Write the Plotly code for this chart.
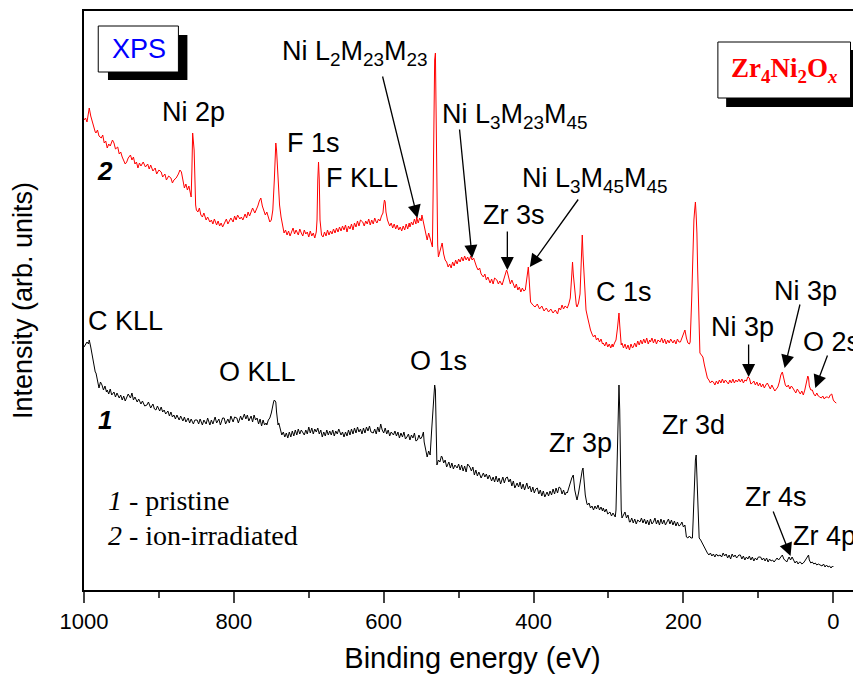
import plotly.graph_objects as go

# ---- data: (binding energy eV, intensity arb. units) ----
irradiated = [
(1000,470),(998,472),(996,468),(994,480),(993,482),(991,474),(989,468),(987,462),(985,458),(984,457),
(982,460),(980,454),(977,452),(975,455),(973,447),(971,449),(969,442),(967,446),(965,444),(962,450),
(960,447),(958,441),(955,443),(953,436),(951,438),(949,433),(947,430),(945,426),(943,428),(941,432),
(938,435),(936,430),(934,433),(932,426),(930,428),(928,422),(926,427),(924,424),(921,428),(918,423),
(915,426),(913,421),(911,425),(908,419),(905,422),(903,416),(900,420),(897,418),(895,413),(892,416),
(890,410),(887,414),(884,412),(882,407),(880,410),(877,412),(874,416),(872,420),(870,418),(868,408),
(866,402),(864,406),(862,400),(860,404),(858,395),(857,393),(856,420),(855,457),(853,440),(852,400),
(851,385),(850,380),(848,378),(846,382),(844,375),(842,373),(840,377),(837,370),(835,373),(832,368),
(830,370),(828,366),(826,371),(823,365),(821,369),(819,364),(817,367),(815,363),(812,368),(810,371),
(808,366),(806,370),(804,372),(801,368),(799,374),(797,370),(795,375),(792,371),(790,373),(788,370),
(785,376),(783,372),(781,378),(779,374),(777,378),(775,382),(772,377),(770,380),(768,384),(766,389),
(764,392),(762,384),(760,380),(758,375),(756,378),(754,372),(752,368),(750,370),(748,380),(746,410),
(745,440),(744,447),(743,440),(741,415),(739,385),(737,373),(735,365),(733,357),(731,360),(729,355),
(727,359),(725,354),(723,358),(721,362),(719,356),(717,360),(714,355),(712,361),(710,357),(708,354),
(706,360),(704,356),(702,358),(700,353),(698,359),(696,354),(694,357),(692,352),(690,358),(689,370),
(688,410),(687,428),(686,410),(685,370),(683,355),(681,353),(679,358),(677,354),(675,360),(673,355),
(671,359),(669,356),(667,361),(665,357),(663,362),(661,358),(659,363),(657,359),(655,364),(653,360),
(651,365),(649,358),(647,364),(645,361),(643,366),(641,360),(639,367),(637,363),(635,369),(633,364),
(631,370),(628,368),(626,364),(624,369),(622,366),(620,371),(618,365),(616,370),(614,366),(612,372),
(610,368),(609,367),(607,371),(605,369),(603,374),(601,377),(600,385),(599,390),(598,388),(597,378),
(595,370),(594,368),(592,364),(590,367),(588,362),(586,366),(584,361),(582,365),(580,360),(578,363),
(576,359),(574,364),(572,360),(570,366),(568,361),(566,367),(565,363),(563,368),(561,365),(559,371),
(557,366),(556,373),(554,367),(552,372),(550,369),(549,375),(547,368),(545,362),(543,355),(542,350),
(540,357),(538,352),(536,345),(535,343),(534,400),(533,480),(532,530),(531,537),(530,480),(529,380),
(528,345),(527,333),(525,340),(523,344),(522,347),(520,336),(518,330),(516,328),(514,323),(512,326),
(510,322),(508,328),(506,324),(504,330),(502,326),(500,331),(498,328),(496,333),(494,329),(492,334),
(490,330),(488,333),(486,329),(484,334),(482,330),(480,332),(478,326),(476,323),(474,320),(472,322),
(470,316),(467,313),(465,316),(463,310),(461,313),(458,307),(456,311),(454,306),(452,312),(449,310),
(447,306),(445,309),(442,305),(440,310),(438,314),(436,320),(435,318),(433,312),(431,306),(429,310),
(427,305),(425,302),(423,306),(421,300),(419,303),(417,298),(415,302),(413,299),(411,300),(409,310),
(408,318),(407,323),(406,312),(405,297),(404,288),(401,285),(398,283),(395,286),(392,281),(389,284),
(386,279),(383,282),(380,278),(377,281),(374,277),(371,280),(368,276),(366,282),(364,280),(362,285),
(360,281),(358,284),(356,283),(355,282),(353,286),(351,292),(349,315),(348,328),(347,316),(345,298),
(343,285),(342,283),(340,287),(338,296),(336,330),(335,355),(334,335),(332,300),(330,280),(328,273),
(326,265),(324,260),(322,256),(320,253),(318,255),(316,250),(314,252),(312,248),(310,251),(308,246),
(307,247),(305,244),(303,248),(301,243),(299,246),(297,242),(295,246),(294,243),(292,247),(290,250),
(288,262),(287,272),(286,277),(285,265),(284,250),(283,245),(282,247),(280,242),(278,246),(276,241),
(274,245),(272,240),(270,246),(268,242),(267,243),(265,247),(263,243),(261,249),(259,245),(257,250),
(255,246),(253,251),(251,247),(249,252),(247,246),(245,250),(244,248),(242,252),(240,247),(238,251),
(236,246),(234,250),(231,248),(229,252),(227,247),(225,251),(223,246),(221,250),(219,247),(217,251),
(214,247),(212,250),(210,246),(208,251),(206,248),(204,248),(202,252),(200,256),(198,260),(196,252),
(194,247),(192,246),(191,248),(189,290),(188,330),(187,350),(186,370),(185,380),(184,388),(183,375),
(182,357),(181,320),(180,280),(179,250),(178,237),(176,235),(174,233),(172,225),(170,218),(168,212),
(166,210),(164,207),(162,209),(160,208),(158,205),(156,209),(154,206),(152,210),(150,207),(148,211),
(146,207),(144,210),(142,208),(140,206),(138,210),(136,207),(134,211),(132,207),(130,210),(128,208),
(126,211),(124,208),(122,211),(120,207),(118,210),(116,209),(114,213),(112,212),(110,206),(108,207),
(106,209),(104,205),(102,208),(100,204),(98,207),(96,203),(94,206),(92,202),(90,205),(88,207),
(86,204),(84,201),(82,205),(80,202),(78,199),(76,201),(74,203),(72,208),(70,215),(68,218),
(66,210),(64,205),(62,203),(60,205),(58,201),(56,204),(54,202),(52,200),(50,197),(48,201),
(46,198),(44,196),(42,199),(40,195),(38,200),(36,206),(34,214),(33,212),(32,204),(30,200),
(28,200),(26,196),(24,194),(22,197),(20,194),(18,193),(16,192),(14,194),(12,191),(10,193),
(8,193),(6,192),(4,195),(2,196),(0,190),(-2,188),(-4,187),
]

pristine = [
(1000,243),(998,245),(996,248),(994,246),(993,250),(991,243),(989,233),(987,225),(985,218),(984,217),
(982,210),(980,202),(978,208),(976,205),(974,200),(972,204),(970,198),(969,200),(967,196),(965,201),
(963,195),(960,198),(958,193),(956,197),(953,192),(951,195),(949,190),(947,194),(945,189),(943,193),
(941,196),(938,192),(936,197),(934,190),(932,193),(929,188),(927,191),(924,186),(922,189),(919,184),
(916,185),(914,188),(911,182),(908,186),(906,181),(904,180),(902,184),(899,179),(897,183),(895,178),
(893,180),(891,176),(888,179),(886,174),(884,178),(882,173),(880,175),(878,171),(876,175),(873,170),
(871,174),(868,169),(866,173),(864,168),(861,172),(859,167),(857,171),(854,166),(852,170),(849,170),
(847,166),(845,171),(842,165),(840,170),(837,166),(835,172),(832,165),(830,170),(828,166),(825,173),
(823,167),(820,171),(818,165),(815,172),(813,172),(811,166),(808,171),(806,167),(804,174),(801,168),
(799,173),(796,172),(794,167),(791,174),(789,170),(786,176),(784,171),(782,175),(780,169),(777,174),
(775,168),(773,175),(771,170),(769,172),(767,166),(765,171),(763,164),(761,170),(759,165),(757,167),
(756,165),(754,170),(752,172),(750,177),(749,182),(747,188),(746,190),(744,188),(743,178),(741,165),
(740,167),(738,160),(736,155),(734,158),(732,153),(730,157),(728,152),(726,158),(724,153),(722,159),
(720,154),(718,160),(716,155),(714,161),(712,156),(710,160),(708,157),(706,155),(704,160),(702,156),
(700,163),(698,157),(696,162),(694,156),(692,161),(690,158),(688,162),(686,156),(684,160),(682,153),
(680,158),(678,154),(676,160),(674,155),(672,159),(670,155),(668,160),(666,154),(664,159),(662,156),
(660,161),(658,155),(657,155),(655,158),(653,153),(651,158),(649,154),(647,160),(645,155),(643,161),
(641,156),(639,162),(637,157),(635,163),(633,158),(631,161),(629,156),(627,162),(625,157),(623,163),
(621,159),(619,164),(617,158),(614,157),(612,161),(610,156),(608,163),(606,158),(604,166),(602,160),
(600,157),(598,162),(596,156),(594,160),(592,154),(590,158),(588,156),(587,155),(585,159),(583,154),
(581,158),(579,152),(577,157),(575,153),(573,158),(571,151),(569,153),(567,156),(565,150),(563,155),
(561,152),(559,157),(557,149),(555,150),(553,155),(551,151),(549,153),(547,158),(546,148),(544,140),
(542,133),(540,139),(538,135),(536,160),(534,190),(533,200),(532,205),(531,200),(530,170),(529,125),
(527,130),(525,128),(523,134),(522,133),(520,127),(518,130),(516,123),(515,125),(513,128),(511,122),
(509,127),(507,121),(505,125),(502,122),(500,126),(498,120),(496,125),(494,119),(492,124),(490,118),
(488,126),(485,123),(483,119),(481,123),(479,115),(477,120),(475,114),(473,118),(470,112),(467,117),
(465,113),(463,116),(461,111),(459,115),(456,109),(454,113),(452,108),(450,114),(448,108),(446,112),
(444,106),(441,113),(439,107),(437,112),(435,113),(433,108),(431,111),(429,104),(427,109),(425,102),
(422,107),(420,103),(418,108),(416,101),(414,106),(412,100),(410,105),(409,107),(407,101),(405,104),
(403,98),(401,103),(399,97),(397,101),(395,102),(393,96),(391,100),(389,94),(387,99),(385,93),
(382,98),(380,94),(378,99),(376,95),(374,101),(372,96),(370,102),(368,97),(366,103),(364,102),
(362,96),(360,100),(358,95),(356,98),(355,97),(353,102),(351,108),(349,112),(347,115),(345,100),
(343,93),(342,90),(340,97),(338,108),(336,115),(335,120),(334,122),(333,110),(331,95),(329,87),
(328,85),(326,87),(324,82),(322,84),(320,80),(318,84),(316,81),(314,85),(312,80),(310,83),
(308,79),(307,82),(305,78),(303,81),(301,76),(298,78),(296,74),(294,77),(292,74),(291,73),
(290,80),(289,110),(288,160),(287,195),(286,205),(285,180),(284,120),(283,80),(282,72),(280,75),
(278,78),(276,72),(274,75),(272,68),(271,68),(269,72),(267,67),(265,71),(263,66),(261,70),
(258,68),(256,72),(254,67),(252,71),(250,66),(248,70),(246,65),(244,71),(242,66),(240,68),
(238,72),(236,66),(234,70),(232,65),(230,71),(228,66),(226,70),(224,65),(222,68),(220,71),
(218,66),(216,70),(214,65),(212,69),(210,64),(208,68),(206,64),(204,65),(202,68),(200,63),
(198,65),(197,58),(196,53),(194,52),(192,54),(190,52),(188,52),(187,70),(186,100),(185,120),
(184,130),(183,135),(182,115),(181,80),(180,57),(179,52),(177,50),(175,47),(173,44),(171,40),
(168,37),(166,35),(164,37),(162,34),(160,36),(158,33),(156,36),(154,34),(151,35),(149,33),
(147,37),(145,34),(143,36),(141,32),(139,35),(137,31),(135,36),(133,33),(131,35),(129,32),
(126,35),(124,35),(122,31),(120,34),(118,30),(116,33),(114,31),(112,34),(110,30),(108,33),
(106,29),(104,32),(102,30),(100,33),(97,33),(95,30),(93,32),(91,29),(89,32),(87,28),
(85,31),(83,29),(81,30),(79,28),(77,30),(75,32),(73,30),(71,32),(69,35),(68,35),
(66,31),(64,29),(62,28),(61,30),(59,33),(57,30),(55,33),(53,30),(51,27),(49,29),
(47,26),(45,28),(44,28),(42,26),(40,27),(38,29),(36,32),(34,35),(33,35),(32,30),
(30,27),(28,28),(26,26),(24,27),(22,25),(20,26),(17,25),(15,24),(13,26),(11,23),
(9,25),(7,23),(5,24),(3,22),(1,24),(0,23),
]

x_ticks = [0, 200, 400, 600, 800, 1000]

# peak labels: (text, energy, intensity)
peak_labels = [
    ("Ni 2p", 854, 478), ("F 1s", 694, 447), ("F KLL", 629, 412),
    ("Ni L<sub>2</sub>M<sub>23</sub>M<sub>23</sub>", 638, 537),
    ("Ni L<sub>3</sub>M<sub>23</sub>M<sub>45</sub>", 425, 474),
    ("Ni L<sub>3</sub>M<sub>45</sub>M<sub>45</sub>", 318, 410),
    ("Zr 3s", 426, 375), ("C 1s", 279, 298), ("Ni 3p", 121, 263), ("Ni 3p", 37, 299),
    ("O 2s", 3, 248), ("C KLL", 944, 269), ("O KLL", 768, 218), ("O 1s", 527, 229),
    ("Zr 3p", 338, 147), ("Zr 3d", 186, 165), ("Zr 4s", 77, 93), ("Zr 4p", 12, 54),
]
# arrows: (tail energy, tail intensity, head energy, head intensity)
arrows = [
    (602, 515, 555, 372), (499, 462, 482, 332), (435, 360, 435, 320),
    (339, 392, 405, 323), (113, 247, 113, 213), (44, 287, 65, 222),
    (7, 236, 24, 202), (81, 80, 57, 34),
]

SANS = "Liberation Sans, Arial, sans-serif"
SERIF = "Liberation Serif, Times New Roman, serif"

fig = go.Figure()
fig.add_trace(go.Scatter(x=[p[0] for p in irradiated], y=[p[1] for p in irradiated],
                         mode="lines", line=dict(color="#ff0000", width=1), showlegend=False))
fig.add_trace(go.Scatter(x=[p[0] for p in pristine], y=[p[1] for p in pristine],
                         mode="lines", line=dict(color="#000000", width=1), showlegend=False))

ann = []
for t, xe, yi in peak_labels:
    ann.append(dict(x=xe, y=yi, xref="x", yref="y", text=t, showarrow=False,
                    font=dict(family=SANS, size=27, color="black")))
for tx, ty, hx, hy in arrows:
    ann.append(dict(x=hx, y=hy, ax=tx, ay=ty, xref="x", yref="y", axref="x", ayref="y",
                    text="", showarrow=True, arrowhead=2, arrowsize=2.0, arrowwidth=1.3,
                    arrowcolor="black", standoff=0))
ann.append(dict(x=972, y=419, xref="x", yref="y", text="<b><i>2</i></b>", showarrow=False,
                font=dict(family=SANS, size=26, color="black")))
ann.append(dict(x=972, y=170, xref="x", yref="y", text="<b><i>1</i></b>", showarrow=False,
                font=dict(family=SANS, size=26, color="black")))
ann.append(dict(x=971, y=90, xref="x", yref="y", text="<i>1</i> - pristine", showarrow=False,
                xanchor="left", font=dict(family=SERIF, size=28, color="black")))
ann.append(dict(x=971, y=55, xref="x", yref="y", text="<i>2</i> - ion-irradiated", showarrow=False,
                xanchor="left", font=dict(family=SERIF, size=28, color="black")))
ann.append(dict(x=927, y=541, xref="x", yref="y", text="XPS", showarrow=False,
                font=dict(family=SANS, size=27, color="#0000ff")))
ann.append(dict(x=66, y=520, xref="x", yref="y",
                text="<b>Zr<sub>4</sub>Ni<sub>2</sub>O<sub><i>x</i></sub></b>", showarrow=False,
                font=dict(family=SERIF, size=27, color="#ff0000")))

shapes = [
    dict(type="rect", xref="x", yref="y", x0=968, x1=862, y0=510, y1=555,
         fillcolor="black", line=dict(width=0)),
    dict(type="rect", xref="x", yref="y", x0=981, x1=874, y0=518, y1=564,
         fillcolor="white", line=dict(color="black", width=1)),
    dict(type="rect", xref="x", yref="y", x0=143, x1=-33, y0=483, y1=540,
         fillcolor="black", line=dict(width=0)),
    dict(type="rect", xref="x", yref="y", x0=154, x1=-23, y0=492, y1=548,
         fillcolor="white", line=dict(color="black", width=1)),
]

# the page body adds an 8 px offset, so the figure is sized to fill the rest of the window
fig.update_layout(
    width=853, height=671, margin=dict(l=76, r=0, t=3, b=89),
    paper_bgcolor="white", plot_bgcolor="white",
    annotations=ann, shapes=shapes,
    xaxis=dict(range=[1000, -37], tickvals=x_ticks, ticks="outside", ticklen=11, tickwidth=2,
               showline=True, linewidth=2, linecolor="black", mirror=True,
               showgrid=False, zeroline=False, automargin=False,
               minor=dict(dtick=100, tick0=0, ticks="outside", ticklen=6, tickwidth=2, showgrid=False),
               tickfont=dict(family=SANS, size=22, color="black"),
               title=dict(text="Binding energy (eV)", font=dict(family=SANS, size=29, color="black"),
                          standoff=14)),
    yaxis=dict(range=[0, 579], showline=True, linewidth=2, linecolor="black", ticks="",
               showticklabels=False, showgrid=False, zeroline=False, automargin=False,
               title=dict(text="Intensity (arb. units)", font=dict(family=SANS, size=27, color="black"),
                          standoff=45)),
)

fig.write_html("out.html")
